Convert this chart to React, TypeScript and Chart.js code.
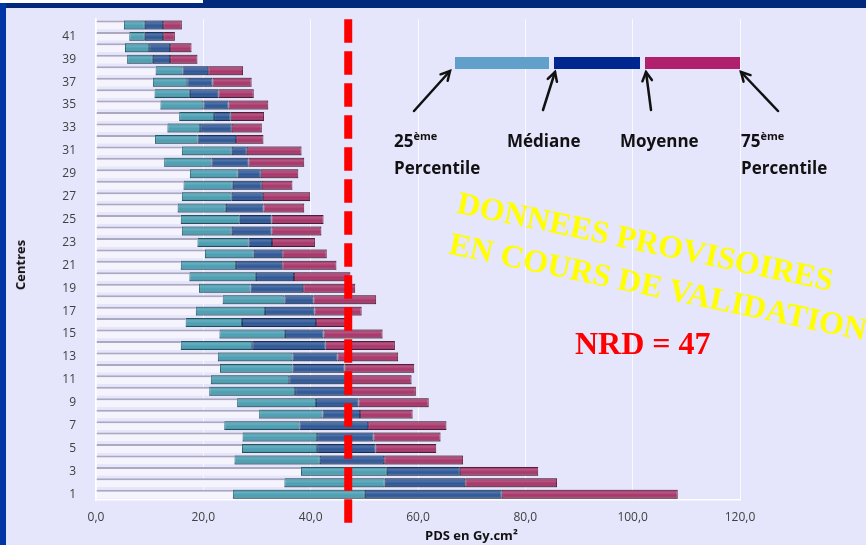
import React, { useEffect, useRef } from 'react';
import { Chart, registerables } from 'chart.js';

Chart.register(...registerables);

// ---- data -------------------------------------------------------------
const centres = [
  '1', '2', '3', '4', '5', '6', '7', '8', '9', '10',
  '11', '12', '13', '14', '15', '16', '17', '18', '19', '20',
  '21', '22', '23', '24', '25', '26', '27', '28', '29', '30',
  '31', '32', '33', '34', '35', '36', '37', '38', '39', '40',
  '41', '42',
];
const p25 = [
  25.5, 35.1, 38.2, 25.8, 27.2, 27.3, 23.9, 30.4, 26.3, 21.1,
  21.4, 23.1, 22.7, 15.8, 23.0, 16.7, 18.6, 23.6, 19.2, 17.4,
  15.8, 20.3, 18.9, 16.0, 15.8, 15.2, 16.0, 16.3, 17.5, 12.7,
  16.0, 11.0, 13.3, 15.5, 12.0, 10.9, 10.6, 11.1, 5.8, 5.4,
  6.2, 5.2,
];
const median = [
  50.1, 53.8, 54.2, 41.7, 41.2, 41.2, 37.9, 42.2, 41.0, 37.1,
  36.0, 36.6, 36.6, 29.1, 35.2, 27.2, 31.5, 35.1, 28.8, 29.8,
  26.1, 29.4, 28.4, 25.3, 26.8, 24.2, 25.3, 25.5, 26.4, 21.5,
  25.3, 18.9, 19.4, 22.0, 20.0, 17.5, 17.0, 16.1, 10.6, 9.9,
  9.1, 9.1,
];
const mean = [
  75.6, 68.8, 67.8, 53.7, 52.1, 51.7, 50.7, 49.2, 48.9, 47.3,
  46.7, 46.3, 45.0, 42.8, 42.4, 41.0, 40.7, 40.5, 38.6, 36.9,
  34.7, 34.7, 32.8, 32.7, 32.7, 31.2, 31.1, 30.9, 30.7, 28.4,
  28.1, 26.1, 25.3, 25.1, 24.7, 22.8, 21.7, 20.9, 13.8, 13.8,
  12.5, 12.5,
];
const p75 = [
  108.4, 85.9, 82.4, 68.4, 63.4, 64.2, 65.3, 59.0, 62.0, 59.6,
  58.8, 59.3, 56.3, 55.7, 53.4, 46.6, 49.5, 52.2, 48.3, 47.4,
  44.8, 43.0, 40.8, 42.0, 42.4, 38.8, 39.9, 36.6, 37.7, 38.8,
  38.3, 31.2, 30.9, 31.3, 32.1, 29.4, 29.0, 27.4, 18.9, 17.8,
  14.7, 16.0,
];
const xMin = 0;
const xMax = 120;
const xStep = 20;
const NRD = 47;

// ---- plugin: shading of the segments + NRD dashed line ----------------
const overlayPlugin = {
  id: 'overlay',
  afterDatasetsDraw(chart: any) {
    const ctx = chart.ctx as CanvasRenderingContext2D;
    for (let d = 1; d < 4; d++) {
      const meta = chart.getDatasetMeta(d);
      meta.data.forEach((el: any) => {
        const { x, y, base, height } = el.getProps(['x', 'y', 'base', 'height'], true);
        const top = y - height / 2;
        const g = ctx.createLinearGradient(0, top, 0, top + height);
        g.addColorStop(0, 'rgba(0,0,0,0.22)');
        g.addColorStop(0.3, 'rgba(255,255,255,0.16)');
        g.addColorStop(0.6, 'rgba(255,255,255,0)');
        g.addColorStop(1, 'rgba(0,0,0,0.3)');
        ctx.fillStyle = g;
        ctx.fillRect(Math.min(x, base), top, Math.abs(x - base), height);
      });
    }
    const xs = chart.scales.x;
    const px = xs.getPixelForValue(NRD);
    const area = chart.chartArea;
    ctx.save();
    ctx.strokeStyle = '#ff0000';
    ctx.lineWidth = 8;
    ctx.setLineDash([23.5, 8.5]);
    ctx.beginPath();
    ctx.moveTo(px, area.top);
    ctx.lineTo(px, area.bottom + 29);
    ctx.stroke();
    ctx.restore();
  },
};

const tickFont = { family: '"Open Sans", sans-serif', size: 12 };
const tickColor = '#404040';

function segment(label: string, from: number[], to: number[], fill: string, border: string) {
  return {
    label,
    data: centres.map((_, i) => [from[i], to[i]]),
    backgroundColor: fill,
    borderColor: border,
    borderWidth: 1,
    borderSkipped: false,
    grouped: false,
  };
}

export default function App() {
  const ref = useRef<HTMLCanvasElement>(null);

  useEffect(() => {
    const zero = centres.map(() => xMin);
    const chart = new Chart(ref.current as HTMLCanvasElement, {
      type: 'bar',
      data: {
        labels: centres,
        datasets: [
          {
            label: 'base',
            data: centres.map((_, i) => [zero[i], p25[i]]),
            backgroundColor: '#f5f3fc',
            borderColor: '#aca8c0',
            borderWidth: { top: 2, right: 0, bottom: 0, left: 0 },
            borderSkipped: false,
            grouped: false,
          } as any,
          segment('25ème percentile – Médiane', p25, median, '#4a9fb3', '#24606f') as any,
          segment('Médiane – Moyenne', median, mean, '#2d5797', '#17305e') as any,
          segment('Moyenne – 75ème percentile', mean, p75, '#a8356a', '#5e1a3a') as any,
        ],
      },
      options: {
        indexAxis: 'y',
        animation: false,
        responsive: false,
        maintainAspectRatio: false,
        layout: { padding: { left: 0, right: 126, top: 14.6, bottom: 0 } },
        datasets: { bar: { categoryPercentage: 1, barPercentage: 0.78 } } as any,
        plugins: { legend: { display: false }, tooltip: { enabled: false } },
        scales: {
          x: {
            type: 'linear',
            min: xMin,
            max: xMax,
            ticks: {
              stepSize: xStep,
              font: tickFont,
              color: tickColor,
              padding: 10,
              callback: (v: any) => Number(v).toFixed(1).replace('.', ','),
            },
            grid: { color: 'rgba(255,255,255,0.75)', drawTicks: false, lineWidth: 1 },
            border: { color: '#ffffff', width: 1.5 },
            afterFit: (s: any) => { s.height = 45; },
          },
          y: {
            reverse: true,
            ticks: {
              autoSkip: false,
              font: tickFont,
              color: tickColor,
              padding: 12,
              callback: function (this: any, v: any) {
                const lab = this.getLabelForValue(v);
                return Number(lab) % 2 === 1 ? lab : '';
              },
            },
            grid: { display: false },
            border: { color: '#ffffff', width: 1.5 },
            afterFit: (s: any) => { s.width = 96; },
          },
        },
      },
      plugins: [overlayPlugin],
    } as any);
    return () => chart.destroy();
  }, []);

  const arrows = [
    [414, 111, 450, 71],
    [543, 110, 555, 72],
    [651, 110, 646, 72],
    [778, 111, 741, 72],
  ];

  const label: React.CSSProperties = {
    position: 'absolute',
    fontFamily: '"Open Sans", sans-serif',
    fontWeight: 700,
    fontSize: 17,
    lineHeight: '25px',
    color: '#111',
    whiteSpace: 'nowrap',
  };
  const sup: React.CSSProperties = { fontSize: 11, position: 'relative', top: -7 };
  const water: React.CSSProperties = {
    position: 'absolute',
    fontFamily: '"Liberation Serif", "Times New Roman", serif',
    fontWeight: 700,
    fontSize: 32,
    lineHeight: 1,
    color: '#ffff00',
    whiteSpace: 'nowrap',
    transformOrigin: '0 0',
    transform: 'rotate(11.8deg)',
  };

  return (
    <div style={{ position: 'absolute', left: 0, top: 0, width: 866, height: 545, overflow: 'hidden', background: '#e5e5fb' }}>
      <div style={{ position: 'absolute', left: 0, top: 0, width: 866, height: 8, background: '#00297c' }} />
      <div style={{ position: 'absolute', left: 0, top: 0, width: 6, height: 545, background: '#0035a5' }} />
      <div style={{ position: 'absolute', left: 0, top: 0, width: 203, height: 3, background: '#ffffff' }} />
      <canvas ref={ref} width={866} height={545} style={{ position: 'absolute', left: 0, top: 0, width: 866, height: 545 }} />

      {/* axis titles */}
      <div style={{ position: 'absolute', left: 20, top: 265, transform: 'translate(-50%,-50%) rotate(-90deg)', fontFamily: '"Open Sans", sans-serif', fontWeight: 700, fontSize: 13, color: '#111', whiteSpace: 'nowrap' }}>Centres</div>
      <div style={{ position: 'absolute', left: 425, top: 526, fontFamily: '"Open Sans", sans-serif', fontWeight: 700, fontSize: 13, color: '#111', whiteSpace: 'nowrap' }}>PDS en Gy.cm²</div>

      {/* key */}
      <div style={{ position: 'absolute', left: 455, top: 57, width: 94, height: 12, background: '#60a0cb' }} />
      <div style={{ position: 'absolute', left: 554, top: 57, width: 86, height: 12, background: '#00268f' }} />
      <div style={{ position: 'absolute', left: 645, top: 57, width: 95, height: 12, background: '#b0206d' }} />
      <svg width={866} height={545} style={{ position: 'absolute', left: 0, top: 0 }}>
        {arrows.map(([x1, y1, x2, y2], i) => {
          const a = Math.atan2(y2 - y1, x2 - x1);
          const L = 10;
          const s = 0.5;
          const h1 = [x2 - L * Math.cos(a - s), y2 - L * Math.sin(a - s)];
          const h2 = [x2 - L * Math.cos(a + s), y2 - L * Math.sin(a + s)];
          return (
            <g key={i} stroke="#111" strokeWidth={2.5} fill="none" strokeLinecap="round">
              <line x1={x1} y1={y1} x2={x2} y2={y2} />
              <polyline points={`${h1[0]},${h1[1]} ${x2},${y2} ${h2[0]},${h2[1]}`} />
            </g>
          );
        })}
      </svg>
      <div style={{ ...label, left: 394, top: 128 }}>25<span style={sup}>ème</span><br />Percentile</div>
      <div style={{ ...label, left: 507, top: 128 }}>Médiane</div>
      <div style={{ ...label, left: 620, top: 128 }}>Moyenne</div>
      <div style={{ ...label, left: 741, top: 128 }}>75<span style={sup}>ème</span><br />Percentile</div>

      {/* watermark */}
      <div style={{ ...water, left: 461, top: 186 }}>DONNEES PROVISOIRES</div>
      <div style={{ ...water, left: 453, top: 227 }}>EN COURS DE VALIDATION</div>

      <div style={{ position: 'absolute', left: 575, top: 327, fontFamily: '"Liberation Serif", "Times New Roman", serif', fontWeight: 700, fontSize: 32, lineHeight: 1, color: '#ff0000', whiteSpace: 'nowrap' }}>NRD = 47</div>
    </div>
  );
}
